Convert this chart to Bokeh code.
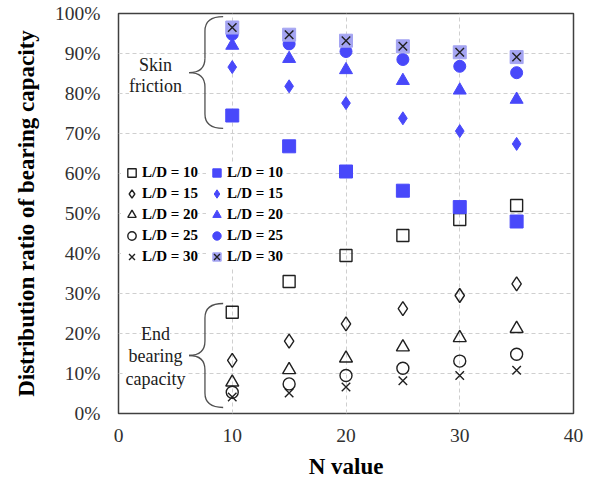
from bokeh.plotting import figure
from bokeh.models import Range1d, Legend, LegendItem, Label, PrintfTickFormatter, FixedTicker
from bokeh.embed import file_html
from bokeh.resources import INLINE

# ---- data (percent) ----
n_values = [10, 15, 20, 25, 30, 35]
ld_labels = ["L/D = 10", "L/D = 15", "L/D = 20", "L/D = 25", "L/D = 30"]

# End bearing capacity (open markers)
end_ld10 = [25.3, 33.0, 39.5, 44.5, 48.5, 52.0]
end_ld15 = [13.3, 18.1, 22.4, 26.2, 29.5, 32.4]
end_ld20 = [7.8, 10.9, 13.8, 16.6, 18.9, 21.2]
end_ld25 = [5.3, 7.4, 9.5, 11.3, 13.1, 14.8]
end_ld30 = [4.1, 5.1, 6.6, 8.2, 9.5, 10.8]

# Skin friction (filled markers)
skin_ld10 = [74.5, 66.8, 60.5, 55.7, 51.6, 48.0]
skin_ld15 = [86.6, 81.8, 77.6, 73.8, 70.6, 67.4]
skin_ld20 = [92.0, 88.7, 85.9, 83.2, 80.8, 78.5]
skin_ld25 = [94.8, 92.4, 90.5, 88.5, 86.8, 85.2]
skin_ld30 = [96.5, 94.7, 93.2, 91.8, 90.3, 89.1]

y_ticks = [0, 10, 20, 30, 40, 50, 60, 70, 80, 90, 100]
x_ticks = [0, 10, 20, 30, 40]

SERIF = "Liberation Serif"
BLUE = "#4848FA"
LIGHT_BLUE = "#A4A4F2"

p = figure(width=595, height=481, output_backend="svg", toolbar_location=None,
           x_range=Range1d(0, 40), y_range=Range1d(0, 100),
           min_border_left=118, min_border_right=22, min_border_top=13, min_border_bottom=68)
p.background_fill_color = "white"
p.border_fill_color = "white"
p.outline_line_color = "#404040"
p.outline_line_width = 1.5

for ax in (p.xaxis[0], p.yaxis[0]):
    ax.axis_line_color = None
    ax.major_tick_line_color = None
    ax.minor_tick_line_color = None
    ax.major_tick_out = 0
    ax.major_tick_in = 0
    ax.major_label_text_font = SERIF
    ax.major_label_text_font_size = "19.5px"
    ax.major_label_text_color = "#303030"
    ax.axis_label_text_font = SERIF
    ax.axis_label_text_font_size = "23px"
    ax.axis_label_text_font_style = "bold"
    ax.axis_label_text_color = "black"

p.xaxis.ticker = FixedTicker(ticks=x_ticks)
p.yaxis.ticker = FixedTicker(ticks=y_ticks)
p.yaxis.formatter = PrintfTickFormatter(format="%d%%")
p.xaxis.axis_label = "N value"
p.yaxis.axis_label = "Distribution ratio of bearing capacity"
p.xaxis.major_label_standoff = 15
p.yaxis.major_label_standoff = 18
p.xaxis.axis_label_standoff = 9
p.yaxis.axis_label_standoff = 13

p.xgrid.ticker = FixedTicker(ticks=[10, 20, 30])
p.ygrid.ticker = FixedTicker(ticks=y_ticks[1:-1])
for g in (p.xgrid[0], p.ygrid[0]):
    g.grid_line_color = "#cfcfcf"
    g.grid_line_dash = "4 3"
    g.grid_line_width = 1

# ---- braces and annotation text ----
BR = "#505050"

def brace(xe, xv, xt, yt, ym, yb, r):
    p.quadratic(x0=[xe, xv, xt, xv], y0=[yt, ym + r, ym, yb + r],
                x1=[xv, xt, xv, xe], y1=[yt - r, ym, ym - r, yb],
                cx=[xv, xv, xv, xv], cy=[yt, ym, ym, yb],
                line_color=BR, line_width=1.3)
    p.segment(x0=[xv, xv], y0=[yt - r, ym - r], x1=[xv, xv], y1=[ym + r, yb + r],
              line_color=BR, line_width=1.3)

brace(9.2, 7.6, 6.2, 99.2, 85.2, 71.3, 3.6)
brace(9.2, 7.6, 6.2, 27.5, 14.5, 1.5, 3.6)

def note(x, y, txt):
    p.add_layout(Label(x=x, y=y, text=txt, text_font=SERIF, text_font_size="18px",
                       text_align="center", text_baseline="middle", text_color="#202020",
                       background_fill_color="white", background_fill_alpha=1.0))

note(3.25, 87.2, "Skin")
note(3.25, 81.9, "friction")
note(3.25, 20.0, "End")
note(3.25, 14.3, "bearing")
note(3.25, 8.6, "capacity")

# ---- open markers (end bearing) ----
open_style = dict(fill_color=None, line_color="#202020", line_width=1.4)
r_o10 = p.scatter(n_values, end_ld10, marker="square", size=12, **open_style)
r_o15 = p.scatter(n_values, end_ld15, marker="diamond", size=14, **open_style)
r_o20 = p.scatter(n_values, end_ld20, marker="triangle", size=13, **open_style)
r_o25 = p.scatter(n_values, end_ld25, marker="circle", size=12, **open_style)
r_o30 = p.scatter(n_values, end_ld30, marker="x", size=12, line_color="#202020", line_width=1.4)

# ---- filled markers (skin friction) ----
r_f10 = p.scatter(n_values, skin_ld10, marker="square", size=13, fill_color=BLUE, line_color=BLUE)
r_f15 = p.scatter(n_values, skin_ld15, marker="diamond", size=13, fill_color=BLUE, line_color=BLUE)
r_f20 = p.scatter(n_values, skin_ld20, marker="triangle", size=13, fill_color=BLUE, line_color=BLUE)
r_f25 = p.scatter(n_values, skin_ld25, marker="circle", size=12, fill_color=BLUE, line_color=BLUE)
r_f30a = p.scatter(n_values, skin_ld30, marker="square", size=13, fill_color=LIGHT_BLUE, line_color=LIGHT_BLUE)
r_f30b = p.scatter(n_values, skin_ld30, marker="x", size=12, line_color="#202020", line_width=1.4)

open_rs = [[r_o10], [r_o15], [r_o20], [r_o25], [r_o30]]
fill_rs = [[r_f10], [r_f15], [r_f20], [r_f25], [r_f30a, r_f30b]]

def make_legend(rs, loc):
    lg = Legend(items=[LegendItem(label=lab, renderers=r) for lab, r in zip(ld_labels, rs)],
                location=loc, orientation="vertical",
                label_text_font=SERIF, label_text_font_size="15px", label_text_font_style="bold",
                label_text_color="black", glyph_width=21, glyph_height=21, label_height=16,
                label_standoff=0, spacing=0, padding=0, margin=0,
                border_line_color=None, background_fill_color="white", background_fill_alpha=1.0)
    p.add_layout(lg, "center")

make_legend(open_rs, (3, 146))
make_legend(fill_rs, (88, 146))

open("out.html", "w").write(file_html(p, INLINE))
